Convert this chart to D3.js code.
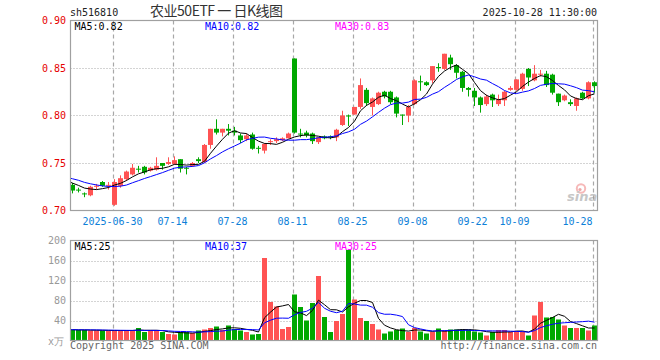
<!DOCTYPE html>
<html>
<head>
<meta charset="utf-8">
<script src="https://cdn.jsdelivr.net/npm/d3@7"></script>
<style>
  html, body { margin: 0; padding: 0; background: #fff; }
  svg { display: block; }
  text { font-family: "DejaVu Sans Mono", "Liberation Mono", monospace; font-size: 10px; }
</style>
</head>
<body>
<svg id="chart" width="660" height="360"></svg>
<script>
// daily bars, 2025-06-19 .. 2025-10-28
const opens = [
  0.727, 0.722, 0.718, 0.716, 0.725, 0.730, 0.726, 0.706, 0.726, 0.733,
  0.738, 0.744, 0.746, 0.742, 0.743, 0.750, 0.749, 0.749, 0.754, 0.745,
  0.747, 0.754, 0.751, 0.769, 0.786, 0.782, 0.786, 0.784, 0.779, 0.775,
  0.780, 0.766, 0.763, 0.772, 0.773, 0.774, 0.776, 0.860, 0.781, 0.782,
  0.781, 0.772, 0.778, 0.778, 0.777, 0.790, 0.800, 0.801, 0.809, 0.827,
  0.809, 0.812, 0.825, 0.825, 0.819, 0.801, 0.800, 0.812, 0.836, 0.835,
  0.837, 0.851, 0.849, 0.861, 0.853, 0.846, 0.829, 0.826, 0.819, 0.812,
  0.822, 0.812, 0.816, 0.827, 0.827, 0.828, 0.849, 0.837, 0.843, 0.844,
  0.843, 0.823, 0.816, 0.814, 0.810, 0.824, 0.818, 0.835
];
const highs = [
  0.729, 0.724, 0.719, 0.726, 0.728, 0.731, 0.730, 0.733, 0.737, 0.742,
  0.749, 0.747, 0.747, 0.746, 0.756, 0.750, 0.756, 0.757, 0.754, 0.746,
  0.751, 0.756, 0.770, 0.786, 0.796, 0.786, 0.791, 0.788, 0.781, 0.781,
  0.782, 0.768, 0.771, 0.775, 0.777, 0.777, 0.782, 0.860, 0.786, 0.784,
  0.782, 0.777, 0.779, 0.779, 0.786, 0.805, 0.801, 0.809, 0.839, 0.829,
  0.819, 0.825, 0.826, 0.826, 0.820, 0.801, 0.811, 0.838, 0.842, 0.836,
  0.852, 0.855, 0.865, 0.864, 0.854, 0.847, 0.830, 0.829, 0.820, 0.822,
  0.823, 0.822, 0.826, 0.831, 0.838, 0.845, 0.850, 0.853, 0.848, 0.847,
  0.844, 0.823, 0.822, 0.817, 0.819, 0.825, 0.836, 0.836
];
const lows = [
  0.718, 0.719, 0.714, 0.715, 0.722, 0.725, 0.722, 0.705, 0.724, 0.731,
  0.737, 0.740, 0.738, 0.741, 0.742, 0.743, 0.748, 0.748, 0.740, 0.738,
  0.746, 0.750, 0.750, 0.765, 0.780, 0.778, 0.779, 0.779, 0.771, 0.773,
  0.764, 0.760, 0.760, 0.769, 0.771, 0.773, 0.776, 0.781, 0.777, 0.777,
  0.770, 0.770, 0.775, 0.775, 0.773, 0.789, 0.789, 0.801, 0.807, 0.810,
  0.800, 0.811, 0.818, 0.812, 0.798, 0.790, 0.793, 0.811, 0.826, 0.831,
  0.834, 0.846, 0.848, 0.848, 0.839, 0.825, 0.820, 0.810, 0.803, 0.810,
  0.809, 0.810, 0.810, 0.826, 0.826, 0.826, 0.831, 0.836, 0.841, 0.830,
  0.822, 0.810, 0.815, 0.810, 0.805, 0.817, 0.817, 0.824
];
const closes = [
  0.721, 0.721, 0.717, 0.725, 0.726, 0.726, 0.727, 0.730, 0.734, 0.741,
  0.745, 0.743, 0.740, 0.745, 0.747, 0.747, 0.751, 0.753, 0.744, 0.744,
  0.750, 0.752, 0.769, 0.786, 0.782, 0.786, 0.784, 0.782, 0.774, 0.779,
  0.765, 0.765, 0.770, 0.773, 0.775, 0.776, 0.781, 0.782, 0.780, 0.779,
  0.773, 0.777, 0.776, 0.777, 0.785, 0.800, 0.799, 0.809, 0.832, 0.813,
  0.818, 0.824, 0.820, 0.814, 0.802, 0.800, 0.809, 0.837, 0.835, 0.832,
  0.852, 0.850, 0.865, 0.854, 0.845, 0.829, 0.827, 0.819, 0.811, 0.820,
  0.816, 0.817, 0.825, 0.829, 0.838, 0.844, 0.840, 0.844, 0.844, 0.832,
  0.824, 0.814, 0.821, 0.812, 0.818, 0.818, 0.835, 0.831
];
// volume in 万手
const volumes = [
  21, 21, 21, 20, 20, 20, 20, 20, 20, 20,
  20, 25, 17, 20, 20, 17, 13, 12, 17, 17,
  15, 20, 22, 25, 28, 21, 30, 23, 20, 17,
  12, 13, 165, 77, 68, 23, 27, 92, 67, 40,
  75, 129, 47, 17, 39, 53, 181, 82, 45, 39,
  33, 22, 14, 18, 21, 24, 17, 25, 18, 14,
  17, 24, 20, 22, 22, 22, 22, 18, 16, 10,
  17, 21, 21, 17, 18, 18, 10, 50, 77, 46,
  47, 42, 30, 25, 25, 25, 20, 30
];
// sessions before the visible window (only feed the moving averages)
const earlierCloses = [
  0.696, 0.698, 0.697, 0.695, 0.694, 0.696, 0.698, 0.699, 0.697, 0.696,
  0.695, 0.697, 0.699, 0.700, 0.698, 0.697, 0.712, 0.728, 0.736, 0.738,
  0.737, 0.739, 0.740, 0.738, 0.736, 0.733, 0.731, 0.730, 0.729
];
const earlierVolumes = [
  19, 21, 20, 22, 18, 20, 21, 19, 20, 22,
  21, 19, 20, 18, 21, 20, 22, 19, 20, 21,
  23, 22, 20, 21, 22, 23, 21, 22, 21
];

const tickIndex = [7, 17, 27, 37, 47, 57, 67, 74, 87];
const tickText = ["2025-06-30", "07-14", "07-28", "08-11", "08-25", "09-08", "09-22", "10-09", "10-28"];
const priceTicks = [0.70, 0.75, 0.80, 0.85, 0.90];
const volumeTicks = [40, 80, 120, 160, 200];
const maPeriods = [5, 10, 30];
const maColors = ["#000000", "#0000ff", "#ff00ff"];

const UP = "#ff5353", DOWN = "#00a800", GRID = "#a8a8a8", FRAME = "#a0a0a0";
const left = 70.5, right = 597.5;
const pTop = 20.5, pBottom = 210.5, vTop = 240.5, vBottom = 340.5;

const svg = d3.select("#chart");
const n = closes.length;

const x = d3.scaleLinear().domain([0, n - 1]).range([72.5, 72.5 + 6 * (n - 1)]);
const yP = d3.scaleLinear().domain([0.70, 0.90]).range([pBottom, pTop]);
const yV = d3.scaleLinear().domain([0, 200]).range([vBottom, vTop]);

function movingAverage(series, earlier, period) {
  const all = earlier.concat(series);
  const off = earlier.length;
  const out = [];
  for (let i = -1; i < series.length; i++) {
    const k = i + off;
    out.push({ i, v: d3.mean(all.slice(k - period + 1, k + 1)) });
  }
  return out;
}

const defs = svg.append("defs");
defs.append("clipPath").attr("id", "clipP")
  .append("rect").attr("x", left).attr("y", pTop).attr("width", right - left).attr("height", pBottom - pTop);
defs.append("clipPath").attr("id", "clipV")
  .append("rect").attr("x", left).attr("y", vTop).attr("width", right - left).attr("height", vBottom - vTop);

// header
svg.append("text").attr("x", 70).attr("y", 16).attr("fill", "#222").text("sh516810");
svg.append("text").attr("x", 150).attr("y", 16)
  .style("font-family", "'Noto Sans CJK SC', sans-serif").style("font-size", "14px")
  .attr("textLength", 133).attr("lengthAdjust", "spacing")
  .attr("fill", "#333").text("农业50ETF 一 日K线图");
svg.append("text").attr("x", 597).attr("y", 16).attr("text-anchor", "end")
  .attr("fill", "#222").text("2025-10-28 11:30:00");

// grid
const grid = svg.append("g");
grid.selectAll("line.hp").data(priceTicks.slice(1, -1)).join("line")
  .attr("x1", left).attr("x2", right)
  .attr("y1", d => Math.round(yP(d)) + 0.5).attr("y2", d => Math.round(yP(d)) + 0.5)
  .attr("stroke", GRID).attr("stroke-dasharray", "1,2");
grid.selectAll("line.hv").data(volumeTicks.slice(0, -1)).join("line")
  .attr("x1", left).attr("x2", right)
  .attr("y1", d => Math.round(yV(d)) + 0.5).attr("y2", d => Math.round(yV(d)) + 0.5)
  .attr("stroke", GRID).attr("stroke-dasharray", "1,2");
tickIndex.forEach(i => {
  const gx = Math.round(x(i) - 2) + 0.5;
  [[pTop, pBottom], [vTop, vBottom]].forEach(([a, b]) => {
    grid.append("line").attr("x1", gx).attr("x2", gx).attr("y1", a).attr("y2", b)
      .attr("stroke", GRID).attr("stroke-width", 1.2).attr("stroke-dasharray", "4,3");
  });
});

// watermark
const wm = svg.append("g").attr("opacity", 0.55);
wm.append("circle").attr("cx", 581).attr("cy", 188.5).attr("r", 4.2)
  .attr("fill", "none").attr("stroke", "#f08080").attr("stroke-width", 2);
wm.append("circle").attr("cx", 580).attr("cy", 189.5).attr("r", 1.6).attr("fill", "#e06060");
wm.append("text").attr("x", 567).attr("y", 201)
  .style("font-family", "'DejaVu Sans', sans-serif").style("font-size", "13px")
  .style("font-style", "italic").style("font-weight", "bold")
  .attr("fill", "#999").text("sina");

// candles
const candles = svg.append("g").attr("clip-path", "url(#clipP)");
const idx = d3.range(n);
const colorOf = i => closes[i] >= opens[i] ? UP : DOWN;
candles.selectAll("line.wick").data(idx).join("line")
  .attr("x1", i => x(i)).attr("x2", i => x(i))
  .attr("y1", i => yP(highs[i])).attr("y2", i => yP(lows[i]))
  .attr("stroke", colorOf).attr("stroke-width", 1);
candles.selectAll("rect.body").data(idx).join("rect")
  .attr("x", i => x(i) - 2.5).attr("width", 5)
  .attr("y", i => yP(Math.max(opens[i], closes[i])))
  .attr("height", i => Math.max(1, Math.abs(yP(opens[i]) - yP(closes[i]))))
  .attr("fill", colorOf);

// volume bars
const bars = svg.append("g").attr("clip-path", "url(#clipV)");
bars.selectAll("rect").data(idx).join("rect")
  .attr("x", i => x(i) - 2.5).attr("width", 5)
  .attr("y", i => yV(volumes[i])).attr("height", i => vBottom - yV(volumes[i]))
  .attr("fill", colorOf);

// moving averages
maPeriods.forEach((p, k) => {
  const pm = movingAverage(closes, earlierCloses, p);
  candles.append("path").datum(pm)
    .attr("d", d3.line().x(d => x(d.i)).y(d => yP(d.v)))
    .attr("fill", "none").attr("stroke", maColors[k]).attr("stroke-width", 1);
  const vm = movingAverage(volumes, earlierVolumes, p);
  bars.append("path").datum(vm)
    .attr("d", d3.line().x(d => x(d.i)).y(d => yV(d.v)))
    .attr("fill", "none").attr("stroke", maColors[k]).attr("stroke-width", 1);
});

// frames
[[pTop, pBottom], [vTop, vBottom]].forEach(([a, b]) => {
  svg.append("rect").attr("x", left).attr("y", a).attr("width", right - left).attr("height", b - a)
    .attr("fill", "none").attr("stroke", FRAME).attr("stroke-width", 1.2);
});

// axis labels
svg.append("g").selectAll("text").data(priceTicks).join("text")
  .attr("x", 66).attr("y", d => yP(d)).attr("dy", "0.35em").attr("text-anchor", "end")
  .attr("fill", "#e60000").text(d => d.toFixed(2));
svg.append("g").selectAll("text").data(volumeTicks).join("text")
  .attr("x", 66).attr("y", d => yV(d)).attr("dy", "0.35em").attr("text-anchor", "end")
  .attr("fill", "#999").text(d => d);
svg.append("text").attr("x", 64).attr("y", 345).attr("text-anchor", "end")
  .attr("fill", "#999").text("x万");
svg.append("g").selectAll("text").data(tickIndex).join("text")
  .attr("x", d => x(d) - 2)
  .attr("y", 225)
  .attr("text-anchor", (d, j) => j === tickIndex.length - 1 ? "end" : "middle")
  .attr("fill", "#0d80d8").text((d, j) => tickText[j]);

// MA legends (last value)
const lastP = maPeriods.map(p => movingAverage(closes, earlierCloses, p).pop().v);
const lastV = maPeriods.map(p => movingAverage(volumes, earlierVolumes, p).pop().v);
const legendX = [74.5, 205, 335];
maPeriods.forEach((p, k) => {
  svg.append("text").attr("x", legendX[k]).attr("y", 30).attr("fill", maColors[k])
    .text(`MA${p}:${lastP[k].toFixed(2)}`);
  svg.append("text").attr("x", legendX[k]).attr("y", 250).attr("fill", maColors[k])
    .text(`MA${p}:${Math.round(lastV[k])}`);
});

// footer
svg.append("text").attr("x", 70).attr("y", 349).attr("fill", "#666").text("Copyright 2025 SINA.COM");
svg.append("text").attr("x", 597).attr("y", 349).attr("text-anchor", "end")
  .attr("fill", "#666").text("http://finance.sina.com.cn");
</script>
</body>
</html>
